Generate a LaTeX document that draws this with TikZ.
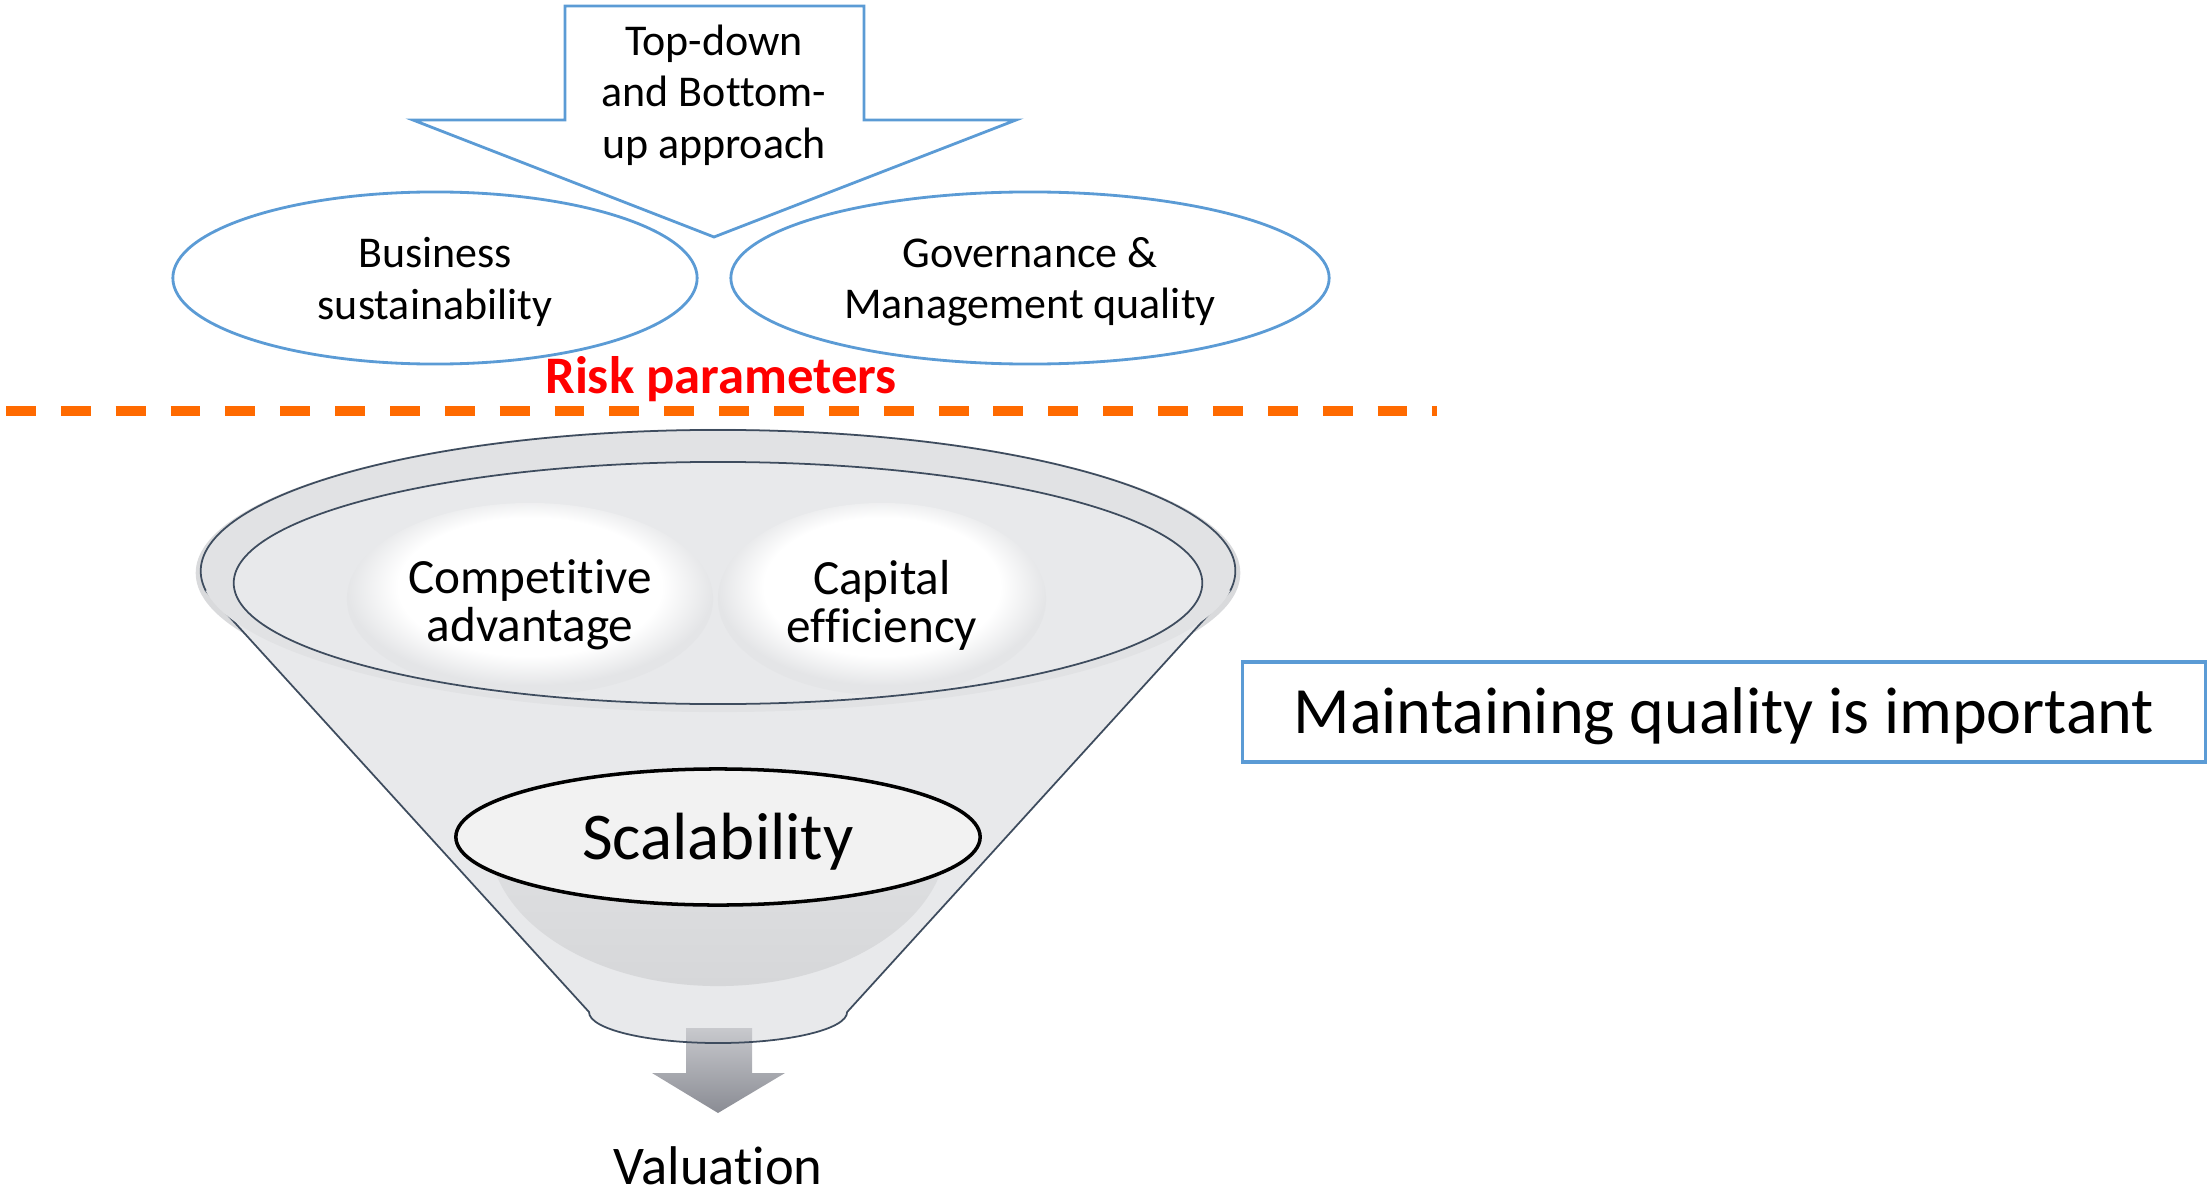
\documentclass[tikz,border=0pt]{standalone}
\usepackage{fontspec}
\setmainfont{Carlito}[Ligatures={NoCommon}]
\usetikzlibrary{shapes.geometric}
\definecolor{bl}{HTML}{5B9BD5}
\definecolor{fun}{HTML}{E8E9EB}
\definecolor{rim}{HTML}{E1E2E4}
\definecolor{glow}{HTML}{D9DADC}
\definecolor{edgec}{HTML}{3E4C5E}
\definecolor{org}{HTML}{FF6A00}
\definecolor{sph}{HTML}{E4E5E7}
\definecolor{bowl}{HTML}{D6D7D9}
\definecolor{arrtop}{HTML}{C8C9CD}
\definecolor{arrbot}{HTML}{8A8C94}
\definecolor{scal}{HTML}{F2F2F2}
\pgfdeclareradialshading{sphere}{\pgfpoint{0bp}{5bp}}{color(0bp)=(white); color(18bp)=(white); color(25bp)=(sph); color(50bp)=(sph)}
\begin{document}
\begin{tikzpicture}[x=0.01cm,y=-0.01cm,
  blueell/.style={ellipse, draw=bl, line width=0.8pt, inner sep=0pt},
  txt/.style={align=center, font=\fontsize{12.5}{14.6}\selectfont},
  sphtext/.style={align=center, font=\fontsize{14}{13.6}\selectfont},
  edgeline/.style={draw=edgec, line width=0.5pt}]
\useasboundingbox (0,0) rectangle (2209,1197);

% block arrow
\draw[bl, line width=0.8pt] (565,6) -- (864,6) -- (864,120) -- (1016,120) -- (714,237) -- (413,120) -- (565,120) -- cycle;
\node[txt] (td) at (714,95) {Top-down\\and Bottom-\\up approach};

% risk ellipses
\node[blueell, minimum width=5.24cm, minimum height=1.72cm] (bus) at (435,278) {};
\node[txt] (bust) at (435,282) {Business\\sustainability};
\node[blueell, minimum width=5.98cm, minimum height=1.72cm] (gov) at (1030,278) {};
\node[txt] (govt) at (1030,282) {Governance \&\\Management quality};
\node[text=red, font=\bfseries\fontsize{15}{18}\selectfont] (risk) at (721,379) {Risk parameters};

% dashed separator
\coordinate (dl) at (6,411);
\coordinate (dr) at (1437,411);
\draw[org, line width=2.6pt, dash pattern=on 8.5pt off 7.1pt] (dl) -- (dr);

% funnel
\fill[glow] (718,573) ellipse[x radius=5.22cm, y radius=1.44cm];
\fill[fun] (206,591) -- (589,1012) arc[start angle=180, end angle=360, x radius=1.29cm, y radius=0.31cm] -- (1230,591) -- cycle;
\shade[top color=arrtop, bottom color=arrbot] (686,1028) -- (752,1028) -- (752,1073) -- (785,1073) -- (718,1113) -- (652,1073) -- (686,1073) -- cycle;
\draw[edgeline] (206,591) -- (589,1012) arc[start angle=180, end angle=360, x radius=1.29cm, y radius=0.31cm] -- (1230,591);
\fill[rim] (718,571) ellipse[x radius=5.17cm, y radius=1.41cm];
\draw[edgeline] (718,571) ++(-8:5.17cm and 1.41cm) arc[start angle=-8, end angle=188, x radius=5.17cm, y radius=1.41cm];
\fill[fun] (718,583) ellipse[x radius=4.84cm, y radius=1.21cm];
\shade[shading=sphere] (530,599) ellipse[x radius=1.83cm, y radius=0.96cm];
\shade[shading=sphere] (882,599) ellipse[x radius=1.64cm, y radius=0.96cm];
\draw[edgeline] (718,583) ellipse[x radius=4.84cm, y radius=1.21cm];
\node[sphtext] (comp) at (530,605) {Competitive\\advantage};
\node[sphtext] (cap) at (882,605) {Capital\\efficiency};

% bowl shade
\begin{scope}
\clip (400,837) rectangle (1040,1000);
\shade[top color=fun, bottom color=bowl] (718,837) ellipse[x radius=2.29cm, y radius=1.49cm];
\end{scope}
\node[ellipse, draw=black, line width=1pt, fill=scal, minimum width=5.24cm, minimum height=1.36cm, inner sep=0pt] (sc) at (718,837) {};
\node[font=\fontsize{19}{22}\selectfont] (sct) at (718,842) {Scalability};

\node[font=\fontsize{15.5}{18}\selectfont, inner sep=1pt] (val) at (718,1166) {Valuation};

% note box
\node[draw=bl, line width=1pt, minimum width=9.62cm, minimum height=1.0cm, inner sep=0pt] (mq) at (1724,712) {};
\node[font=\fontsize{18.8}{22}\selectfont] (mqt) at (1724,716) {Maintaining quality is important};
\end{tikzpicture}
\end{document}
